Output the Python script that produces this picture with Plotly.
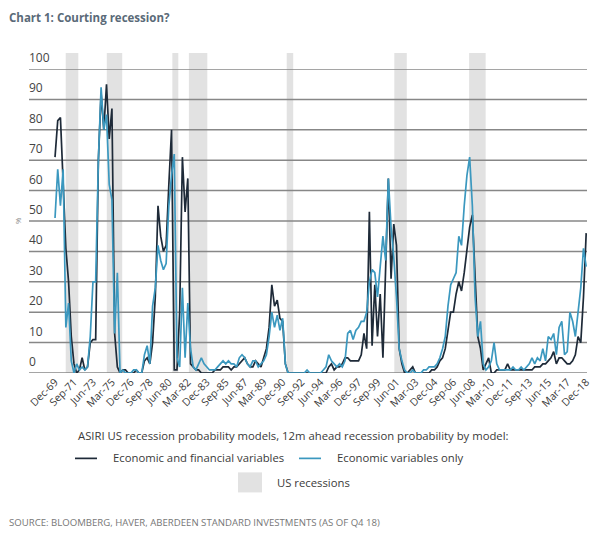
import plotly.graph_objects as go

# ---------------- data ----------------
# quarterly observations, index 0 = Dec-69 ... index 196 = Dec-18
econ_fin = [
    71, 83, 84, 63, 41, 30, 12, 3, 0, 1, 5, 1, 2, 10, 11, 11, 70, 92, 80, 95,
    77, 87, 13, 2, 0, 1, 1, 0, 0, 0, 1, 0, 0, 4, 5, 3, 10, 25, 55, 45,
    40, 42, 62, 80, 1, 1, 20, 71, 53, 64, 3, 2, 1, 1, 0, 0, 0, 0, 0, 1,
    1, 1, 2, 2, 2, 1, 2, 2, 3, 4, 5, 3, 2, 2, 4, 3, 2, 5, 8, 15,
    29, 22, 24, 18, 17, 3, 0, 0, 0, 0, 0, 0, 0, 0, 0, 0, 0, 0, 0, 0,
    0, 2, 3, 1, 2, 2, 3, 5, 5, 4, 4, 4, 4, 6, 13, 8, 53, 9, 29, 12,
    26, 5, 35, 64, 31, 49, 42, 8, 3, 0, 0, 1, 2, 0, 0, 0, 0, 0, 0, 1,
    1, 2, 4, 5, 8, 14, 20, 20, 26, 30, 27, 33, 40, 48, 52, 30, 12, 8, 1, 3,
    5, 0, 0, 1, 1, 1, 1, 3, 1, 1, 1, 1, 1, 1, 1, 1, 1, 2, 2, 2,
    3, 3, 4, 5, 7, 3, 5, 5, 4, 3, 3, 4, 6, 12, 10, 25, 46,
]
econ_only = [
    51, 67, 55, 67, 15, 23, 4, 0, 3, 1, 2, 1, 2, 12, 30, 30, 70, 94, 80, 85,
    62, 57, 13, 33, 0, 1, 0, 0, 0, 1, 1, 0, 0, 6, 9, 3, 22, 28, 42, 37,
    34, 36, 55, 65, 72, 5, 2, 28, 5, 23, 8, 2, 1, 3, 5, 3, 2, 1, 1, 1,
    2, 3, 4, 3, 4, 3, 3, 2, 5, 6, 5, 3, 2, 4, 4, 2, 3, 4, 6, 12,
    20, 15, 19, 14, 18, 3, 0, 0, 0, 0, 0, 0, 0, 1, 0, 0, 0, 0, 0, 1,
    2, 6, 4, 3, 2, 3, 2, 4, 13, 14, 11, 14, 15, 17, 17, 20, 30, 34, 33, 25,
    36, 45, 37, 64, 48, 38, 25, 8, 4, 1, 0, 0, 1, 0, 0, 0, 1, 1, 2, 2,
    2, 3, 5, 8, 12, 22, 29, 31, 33, 45, 42, 55, 65, 71, 55, 25, 12, 17, 3, 1,
    2, 4, 10, 3, 1, 1, 1, 1, 1, 2, 1, 1, 2, 1, 2, 3, 5, 3, 5, 4,
    8, 4, 12, 11, 13, 6, 15, 17, 6, 7, 20, 17, 12, 20, 28, 41, 35,
]
tick_labels = [
    "Dec-69", "Sep-71", "Jun-73", "Mar-75", "Dec-76", "Sep-78", "Jun-80",
    "Mar-82", "Dec-83", "Sep-85", "Jun-87", "Mar-89", "Dec-90", "Sep-92",
    "Jun-94", "Mar-96", "Dec-97", "Sep-99", "Jun-01", "Mar-03", "Dec-04",
    "Sep-06", "Jun-08", "Mar-10", "Dec-11", "Sep-13", "Jun-15", "Mar-17",
    "Dec-18",
]
tick_step = 7  # one label every 7 quarters
# US recession spans, in quarter-index units as drawn in the chart
rec_start = [3.95, 19.1, 43.3, 49.4, 85.5, 125.2, 152.8]
rec_end = [8.6, 24.8, 45.5, 56.2, 87.9, 129.8, 158.9]
y_ticks = [0, 10, 20, 30, 40, 50, 60, 70, 80, 90, 100]

# ---------------- styling ----------------
DARK = "#1e2a38"
BLUE = "#3b98bf"
GRID = "#878787"
SHADE = "#e2e2e2"
TXT = "#3a3a3a"
FONT = "Open Sans"
X_RANGE = [-9.6, 196.3]

# the html body adds an 8px offset; plot area given in page pixels
BODY = 8
PL, PR, PT, PB = 29, 587, 69, 372.7
W, H = 603, 539
def px_x(px):
    return (px - PL) / (PR - PL)
def px_y(py):
    return (PB - py) / (PB - PT)

fig = go.Figure()

# horizontal gridlines, one short trace per level
for v in y_ticks:
    fig.add_trace(go.Scatter(x=X_RANGE, y=[v, v], mode="lines", hoverinfo="skip",
                             line=dict(color=GRID, width=1.5), cliponaxis=False,
                             showlegend=False))

fig.add_trace(go.Scatter(x=list(range(len(econ_fin))), y=econ_fin, mode="lines",
                         line=dict(color=DARK, width=1.7),
                         name="Economic and financial variables"))
fig.add_trace(go.Scatter(x=list(range(len(econ_only))), y=econ_only, mode="lines",
                         line=dict(color=BLUE, width=1.7),
                         name="Economic variables only"))

shapes = []
for s, e in zip(rec_start, rec_end):
    shapes.append(dict(type="rect", xref="x", yref="paper", x0=s, x1=e,
                       y0=0, y1=px_y(53), fillcolor=SHADE, line=dict(width=0),
                       layer="below"))

annotations = []
for v in y_ticks:
    annotations.append(dict(xref="paper", yref="y", x=0, y=v, text=str(v),
                            showarrow=False, xanchor="left", yanchor="bottom",
                            yshift=1, xshift=-2,
                            font=dict(family=FONT, size=12, color="#444")))

# y-axis unit
annotations.append(dict(xref="paper", yref="paper", x=px_x(17), y=px_y(220), text="%",
                        textangle=-90, showarrow=False, xanchor="center",
                        yanchor="middle", font=dict(family=FONT, size=8, color="#888")))

# title & source
annotations.append(dict(xref="paper", yref="paper", x=px_x(7), y=px_y(BODY + 0.5),
                        text="<b>Chart 1: Courting recession?</b>", showarrow=False,
                        xanchor="left", yanchor="top",
                        font=dict(family=FONT, size=11.5, color="#5a6a78")))
annotations.append(dict(xref="paper", yref="paper", x=px_x(7), y=px_y(522),
                        text="SOURCE: BLOOMBERG, HAVER, ABERDEEN STANDARD INVESTMENTS (AS OF Q4 18)",
                        showarrow=False, xanchor="left", yanchor="middle",
                        font=dict(family=FONT, size=9.6, color="#777")))

# legend (manual)
LEGF = dict(family=FONT, size=11.3, color=TXT)
annotations.append(dict(xref="paper", yref="paper", x=px_x(293), y=px_y(435),
                        text="ASIRI US recession probability models, 12m ahead recession probability by model:",
                        showarrow=False, xanchor="center", yanchor="middle", font=LEGF))
annotations.append(dict(xref="paper", yref="paper", x=px_x(111), y=px_y(457),
                        text="Economic and financial variables", showarrow=False,
                        xanchor="left", yanchor="middle", font=LEGF))
annotations.append(dict(xref="paper", yref="paper", x=px_x(335), y=px_y(457),
                        text="Economic variables only", showarrow=False,
                        xanchor="left", yanchor="middle", font=LEGF))
annotations.append(dict(xref="paper", yref="paper", x=px_x(275), y=px_y(482),
                        text="US recessions", showarrow=False,
                        xanchor="left", yanchor="middle", font=LEGF))
shapes.append(dict(type="line", xref="paper", yref="paper", x0=px_x(75), x1=px_x(97),
                   y0=px_y(458), y1=px_y(458), line=dict(color=DARK, width=1.7)))
shapes.append(dict(type="line", xref="paper", yref="paper", x0=px_x(299), x1=px_x(321),
                   y0=px_y(458), y1=px_y(458), line=dict(color=BLUE, width=1.7)))
shapes.append(dict(type="rect", xref="paper", yref="paper", x0=px_x(238), x1=px_x(262),
                   y0=px_y(492), y1=px_y(472), fillcolor=SHADE, line=dict(width=0)))

fig.update_layout(
    width=W, height=H,
    margin=dict(l=PL - BODY, r=W - (PR - BODY), t=PT - BODY, b=H - (PB - BODY)),
    paper_bgcolor="white", plot_bgcolor="rgba(0,0,0,0)",
    showlegend=False,
    shapes=shapes, annotations=annotations,
    xaxis=dict(range=X_RANGE, tickmode="array",
               tickvals=[i * tick_step for i in range(len(tick_labels))],
               ticktext=tick_labels, tickangle=-45, showgrid=False,
               zeroline=False, showline=False, ticks="", automargin=False,
               tickfont=dict(family=FONT, size=10.5, color="#3a3a3a")),
    yaxis=dict(range=[0, 100], showticklabels=False, showgrid=False,
               zeroline=False, showline=False, ticks="", automargin=False),
)

fig.write_html("out.html")
